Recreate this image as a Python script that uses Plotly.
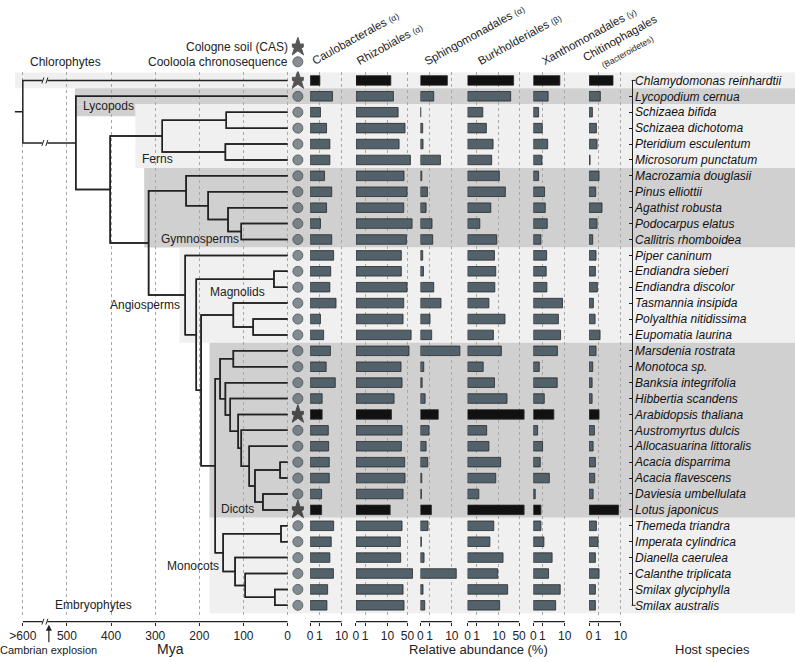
import numpy as np
import plotly.graph_objects as go

W, H = 795, 662

# ---- data -------------------------------------------------------------
species = ['Chlamydomonas reinhardtii', 'Lycopodium cernua', 'Schizaea bifida', 'Schizaea dichotoma',
           'Pteridium esculentum', 'Microsorum punctatum', 'Macrozamia douglasii', 'Pinus elliottii',
           'Agathist robusta', 'Podocarpus elatus', 'Callitris rhomboidea', 'Piper caninum',
           'Endiandra sieberi', 'Endiandra discolor', 'Tasmannia insipida', 'Polyalthia nitidissima',
           'Eupomatia laurina', 'Marsdenia rostrata', 'Monotoca sp.', 'Banksia integrifolia',
           'Hibbertia scandens', 'Arabidopsis thaliana', 'Austromyrtus dulcis', 'Allocasuarina littoralis',
           'Acacia disparrima', 'Acacia flavescens', 'Daviesia umbellulata', 'Lotus japonicus',
           'Themeda triandra', 'Imperata cylindrica', 'Dianella caerulea', 'Calanthe triplicata',
           'Smilax glyciphylla', 'Smilax australis']
source = ['CAS'] + ['Cooloola'] * 20 + ['CAS'] + ['Cooloola'] * 5 + ['CAS'] + ['Cooloola'] * 6

# relative abundance (%) per order
caulobacterales = [1.1, 4.5, 1.2, 2.5, 3.5, 3.5, 2.0, 4.2, 2.5, 1.2, 4.2, 5.0, 3.8, 3.5, 6.2, 1.2, 1.8,
                   3.7, 2.4, 5.8, 1.5, 1.5, 3.0, 3.1, 3.3, 3.3, 1.4, 1.4, 5.0, 4.0, 3.5, 4.9, 2.8, 2.6]
rhizobiales = [13.3, 16.4, 23.9, 41.2, 25.8, 62.7, 38.1, 48.3, 37.2, 71.2, 45.9, 30.8, 30.8, 48.3, 37.2,
               35.3, 66.1, 56.2, 30.1, 32.6, 17.3, 14.0, 32.6, 30.8, 40.1, 41.2, 35.3, 12.6, 32.6, 28.6,
               29.3, 73.8, 35.3, 38.1]
sphingomonadales = [6.8, 1.76, 0.03, 0.19, 0.22, 3.6, 0.11, 0.70, 0.54, 1.42, 1.55, 0.19, 0.26, 1.76, 3.8,
                    1.08, 1.36, 19.3, 0.29, 0.14, 0.43, 2.9, 0.93, 0.54, 0.75, 0.11, 0.08, 1.31, 0.79,
                    0.08, 0.32, 14.4, 0.22, 0.39]
burkholderiales = [32.6, 25.8, 2.2, 3.2, 6.0, 5.3, 10.3, 16.9, 4.9, 1.55, 8.3, 6.8, 7.6, 7.0, 4.1, 16.4,
                   6.2, 12.2, 2.3, 6.8, 19.3, 73.8, 3.3, 4.1, 11.5, 7.6, 1.36, 73.8, 6.4, 4.5, 14.0, 9.0,
                   20.3, 10.6]
xanthomonadales = [6.6, 2.1, 0.50, 0.98, 2.0, 0.93, 0.50, 1.36, 1.49, 1.9, 0.79, 1.76, 1.68, 1.82, 8.3,
                   5.8, 7.0, 5.3, 0.58, 5.2, 1.31, 3.8, 0.39, 1.03, 0.70, 2.4, 0.16, 0.79, 0.79, 1.25,
                   3.2, 2.2, 6.8, 4.5]
chitinophagales = [5.2, 1.36, 0.29, 0.75, 0.84, 0.08, 1.14, 0.66, 1.68, 0.84, 0.32, 0.70, 0.62, 0.88,
                   0.39, 0.58, 1.31, 0.70, 0.32, 0.26, 0.26, 1.14, 0.50, 0.36, 0.62, 0.54, 0.36, 8.5,
                   0.75, 0.98, 0.62, 1.14, 0.62, 0.62]

order_values = [caulobacterales, rhizobiales, sphingomonadales, burkholderiales, xanthomonadales,
                chitinophagales]
order_titles = ['Caulobacterales <span style="font-size:8.5px">(α)</span>',
                'Rhizobiales <span style="font-size:8.5px">(α)</span>',
                'Sphingomonadales <span style="font-size:8.5px">(α)</span>',
                'Burkholderiales <span style="font-size:8.5px">(β)</span>',
                'Xanthomonadales <span style="font-size:8.5px">(γ)</span>',
                'Chitinophagales<br><span style="font-size:8.5px">(Bacteroidetes)</span>']
order_ticks = [[0, 1, 10], [0, 1, 10, 50], [0, 1, 10], [0, 1, 10, 50], [0, 1, 10], [0, 1, 10]]

# tree: (age in Mya, child, child), leaves are species names
tree = (600, 'Chlamydomonas reinhardtii',
        (480, 'Lycopodium cernua',
         (402,
          (284,
           (139, 'Schizaea bifida', 'Schizaea dichotoma'),
           (141, 'Pteridium esculentum', 'Microsorum punctatum')),
          (315,
           (230, 'Macrozamia douglasii',
            (180, 'Pinus elliottii',
             (135, 'Agathist robusta',
              (105, 'Podocarpus elatus', 'Callitris rhomboidea')))),
           (232, 'Piper caninum',
            (207,
             (31, 'Endiandra sieberi', 'Endiandra discolor'),
             (196,
              (123, 'Tasmannia insipida', (78, 'Polyalthia nitidissima', 'Eupomatia laurina')),
              (164,
               (153,
                (123, 'Marsdenia rostrata', 'Monotoca sp.'),
                (141, 'Banksia integrifolia',
                 (130, 'Hibbertia scandens',
                  (112, 'Arabidopsis thaliana',
                   (105, 'Austromyrtus dulcis',
                    (87, 'Allocasuarina littoralis',
                     (74,
                      (17, 'Acacia disparrima', 'Acacia flavescens'),
                      (56, 'Daviesia umbellulata', 'Lotus japonicus')))))))),
               (146,
                (15, 'Themeda triandra', 'Imperata cylindrica'),
                (119, 'Dianella caerulea',
                 (96, 'Calanthe triplicata',
                  (29, 'Smilax glyciphylla', 'Smilax australis'))))))))))))

mya_ticks = [600, 500, 400, 300, 200, 100, 0]
mya_labels = ['>600', '500', '400', '300', '200', '100', '0']

# ---- geometry ---------------------------------------------------------
X0 = 285.7      # px of 0 Mya
PXM = 0.443     # px per Mya
PXD = 30.3      # px per decade of log10(1+x)
ROW0, ROWH = 75, 16.25
AX_Y = 1 - 628 / H
Y_DOM = [1 - 622 / H, 1 - 66 / H]
Y_RANGE = [(622 - ROW0) / ROWH, (66 - ROW0) / ROWH]
panel_px = [308.3, 354.3, 419.0, 466.3, 532.3, 588.3, 630.0]
header_shift = [(-3, 0), (-4, 0), (-1, 0), (6, 0), (4, 0), (-11, -9)]

FONT = 'Liberation Sans, Arial, sans-serif'
INK = '#222222'
LIGHT, MID = '#f0f0f0', '#d0d0d0'
SLATE = '#52616a'
BLACK = '#111111'

row = {s: i for i, s in enumerate(species)}

tx, ty = [], []


def walk(node):
    if isinstance(node, str):
        return 0, row[node]
    age, a, b = node
    (aa, ya), (ab, yb) = walk(a), walk(b)
    tx.extend([aa, age, age, ab, None])
    ty.extend([ya, ya, yb, yb, None])
    return age, (ya + yb) / 2


root_age, root_y = walk(tree)
tx.extend([618, root_age, None])
ty.extend([root_y, root_y, None])
embryo_y = walk(tree[2])[1]

fig = go.Figure()
fig.add_trace(go.Scatter(x=tx, y=ty, mode='lines', line=dict(color=INK, width=1.5),
                         xaxis='x', yaxis='y', hoverinfo='skip', showlegend=False))

# source markers
is_cas = [s == 'CAS' for s in source]
fig.add_trace(go.Scatter(
    x=[0] * len(species), y=list(range(len(species))), mode='markers', xaxis='x8', yaxis='y',
    marker=dict(symbol=['star' if c else 'circle' for c in is_cas],
                size=[14 if c else 10 for c in is_cas],
                color=[BLACK if c else SLATE for c in is_cas],
                line=dict(color=[BLACK if c else '#2a2a2a' for c in is_cas], width=1)),
    hoverinfo='skip', showlegend=False))
# key markers (y3 is a pixel axis)
fig.add_trace(go.Scatter(
    x=[0, 0], y=[41, 56], mode='markers', xaxis='x8', yaxis='y3',
    marker=dict(symbol=['star', 'circle'], size=[14, 10], color=[BLACK, SLATE],
                line=dict(color=[BLACK, '#2a2a2a'], width=1)),
    hoverinfo='skip', showlegend=False))

layout_axes = {}
for k, vals in enumerate(order_values):
    ax = 'x%d' % (k + 2)
    p0, p1 = panel_px[k], panel_px[k + 1] - 2
    fig.add_trace(go.Bar(
        x=np.log10(1 + np.array(vals)), y=list(range(len(species))), orientation='h',
        xaxis=ax, yaxis='y', width=0.6,
        marker=dict(color=[BLACK if c else SLATE for c in is_cas],
                    line=dict(color='#2a2a2a', width=0.8)),
        hoverinfo='skip', showlegend=False))
    ticks = order_ticks[k]
    layout_axes['xaxis%d' % (k + 2)] = dict(
        domain=[p0 / W, p1 / W], range=[0, (p1 - p0) / PXD], anchor='free', position=AX_Y,
        tickvals=list(np.log10(1 + np.array(ticks))), ticktext=[str(t) for t in ticks],
        ticks='outside', ticklen=3, tickcolor=INK, tickfont=dict(size=12, color=INK, family=FONT),
        showgrid=True, gridcolor='#a8a8a8', griddash='dot', gridwidth=1,
        zeroline=False, showline=False)

# dummy for species axis
fig.add_trace(go.Scatter(x=[0.5], y=[0], mode='markers', marker=dict(opacity=0), xaxis='x9',
                         yaxis='y2', hoverinfo='skip', showlegend=False))

shapes = []
# clade bands
XR = (X0 - W) / PXM
bands = [(618, XR, -0.5, 0.5, LIGHT), (482, XR, 0.5, 1.5, MID), (345, XR, 1.5, 5.5, LIGHT),
         (482, 345, 1.5, 2.25, MID), (325, XR, 5.5, 10.5, MID), (245, XR, 10.5, 16.5, LIGHT),
         (177, XR, 16.5, 27.5, MID), (177, XR, 27.5, 33.5, LIGHT)]
for x0, x1, y0, y1, c in bands:
    shapes.append(dict(type='rect', xref='x', yref='y', x0=x0, x1=x1, y0=y0, y1=y1,
                       fillcolor=c, line=dict(width=0), layer='below'))


def brk(xc, yc, yref, gap, ky):
    out = [dict(type='line', xref='x', yref=yref, x0=xc + 2.5 / PXM, x1=xc - 2.5 / PXM,
                y0=yc, y1=yc, line=dict(color=gap, width=3))]
    for d in (-2, 2):
        out.append(dict(type='line', xref='x', yref=yref,
                        x0=xc - (d - 1) / PXM, x1=xc - (d + 1) / PXM,
                        y0=yc + 3 * ky, y1=yc - 3 * ky, line=dict(color=INK, width=1)))
    return out


# bottom axis lines
shapes.append(dict(type='line', xref='x', yref='paper', x0=600, x1=0, y0=AX_Y, y1=AX_Y,
                   line=dict(color=INK, width=1.2)))
for k, ticks in enumerate(order_ticks):
    shapes.append(dict(type='line', xref='x%d' % (k + 2), yref='paper', x0=0,
                       x1=float(np.log10(1 + ticks[-1])), y0=AX_Y, y1=AX_Y,
                       line=dict(color=INK, width=1.2)))
shapes += brk(550, 0, 'y', LIGHT, 1 / ROWH)
shapes += brk(550, embryo_y, 'y', 'white', 1 / ROWH)
shapes += brk(550, AX_Y, 'paper', 'white', -1 / H)
# bracket end caps of species list
for r in (0, len(species) - 1):
    shapes.append(dict(type='line', xref='paper', yref='y', x0=631 / W, x1=635 / W, y0=r, y1=r,
                       line=dict(color=INK, width=1)))

ann = []


def txt(text, x, y, xref='x', yref='y', size=12, **kw):
    d = dict(text=text, x=x, y=y, xref=xref, yref=yref, showarrow=False,
             xanchor='center', yanchor='middle',
             font=dict(size=size, color=INK, family=FONT))
    d.update(kw)
    ann.append(d)


clades = [('Lycopods', 469, 1.58), ('Ferns', 335, 4.97),
          ('Gymnosperms', 292, 9.95), ('Angiosperms', 408, 14.15), ('Magnolids', 180, 13.3),
          ('Dicots', 155, 26.95), ('Monocots', 277, 30.5), ('Embryophytes', 532, 33.0)]
for name, xm, yr in clades:
    txt(name, xm, yr, xanchor='left')
txt('Chlorophytes', 588, 56, yref='y3', xanchor='left')

txt('Cologne soil (CAS)', 288 / W, 41, xref='paper', yref='y3', xanchor='right')
txt('Cooloola chronosequence', 288 / W, 56, xref='paper', yref='y3', xanchor='right')

for k, title in enumerate(order_titles):
    txt(title, 0, 1 - 64 / H, xref='x%d' % (k + 2), yref='paper', xanchor='left',
        yanchor='bottom', textangle=-29, xshift=header_shift[k][0], yshift=header_shift[k][1],
        align='center' if '<br>' in title else 'left', size=11.5)

txt('Mya', 266, 1 - 656 / H, yref='paper', size=14)
txt('Relative abundance (%)', 477 / W, 1 - 656 / H, xref='paper', yref='paper', size=13)
txt('Host species', 712 / W, 1 - 656 / H, xref='paper', yref='paper', size=13)
ann.append(dict(text='Cambrian explosion', x=541, y=1 - 631 / H, xref='x', yref='paper',
                showarrow=True, ax=0, ay=25, arrowhead=2, arrowsize=1, arrowwidth=1.2,
                arrowcolor=INK, font=dict(size=11, color=INK, family=FONT)))

fig.update_layout(
    width=W, height=H, margin=dict(l=0, r=0, t=0, b=0),
    paper_bgcolor='white', plot_bgcolor='rgba(0,0,0,0)',
    font=dict(family=FONT, color=INK), barmode='overlay',
    xaxis=dict(domain=[0, 1], range=[X0 / PXM, XR], anchor='free', position=AX_Y,
               tickvals=mya_ticks, ticktext=mya_labels, ticks='outside', ticklen=3, tickcolor=INK,
               tickfont=dict(size=12, color=INK, family=FONT), showgrid=True,
               gridcolor='#a8a8a8', griddash='dot', gridwidth=1, zeroline=False, showline=False),
    yaxis=dict(domain=Y_DOM, range=Y_RANGE, showgrid=False, zeroline=False, showticklabels=False,
               ticks='', showline=False),
    xaxis8=dict(domain=[290 / W, 302 / W], range=[-1, 1], visible=False, anchor='free',
                position=0),
    xaxis9=dict(domain=[0.8, 1], range=[0, 1], visible=False, anchor='free', position=0),
    yaxis2=dict(domain=[1 - (ROW0 + 33 * ROWH) / H, 1 - ROW0 / H], range=[33, 0], anchor='free',
                position=631 / W, side='right', showline=True, linecolor=INK, linewidth=1.2,
                ticks='inside', ticklen=3, tickcolor=INK, tickvals=list(range(len(species))),
                ticktext=['<i>%s</i>' % s for s in species], showgrid=False, zeroline=False,
                tickfont=dict(size=12, color='#111111', family=FONT)),
    yaxis3=dict(domain=[0, 1], range=[H, 0], visible=False, anchor='free', position=0),
    shapes=shapes, annotations=ann,
    **layout_axes)

fig.write_html('out.html', config={'displayModeBar': False},
               post_script="document.body.style.margin='0px';")
